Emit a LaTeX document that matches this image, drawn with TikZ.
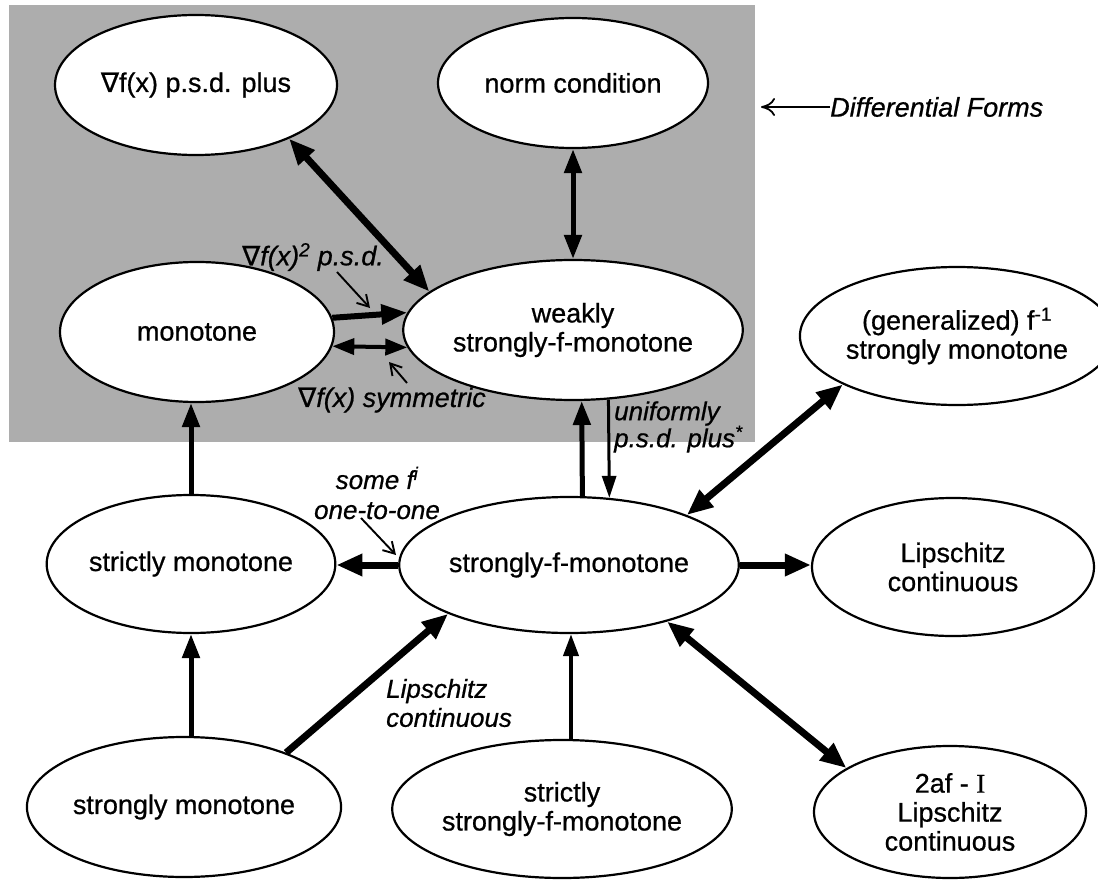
\documentclass[tikz,border=0pt]{standalone}
\usepackage{fontspec}
\setmainfont{Liberation Sans}[FakeBold=0.7]
\newfontfamily\dvs{DejaVu Sans}[FakeBold=0.5]
\newfontfamily\lserif{Liberation Serif}[FakeBold=0.7]
\usetikzlibrary{arrows.meta,shapes.geometric}
\begin{document}
\begin{tikzpicture}[x=1pt,y=-1pt,
  ell/.style={ellipse,draw,line width=2.2pt,fill=white,inner sep=0pt,align=center,
    font=\fontsize{27}{29}\selectfont},
  lab/.style={inner sep=0pt,font=\fontsize{27}{29}\selectfont\itshape},
  s7/.style={line width=7pt,-{Triangle[length=26pt,width=21pt]}},
  d7/.style={line width=7pt,{Triangle[length=26pt,width=21pt]}-{Triangle[length=26pt,width=21pt]}},
  s5/.style={line width=5pt,-{Triangle[length=24pt,width=17pt]}},
  d5/.style={line width=5pt,{Triangle[length=24pt,width=17pt]}-{Triangle[length=24pt,width=17pt]}},
  s4/.style={line width=4pt,-{Triangle[length=22pt,width=15pt]}},
  d4/.style={line width=4pt,{Triangle[length=22pt,width=16pt]}-{Triangle[length=22pt,width=16pt]}},
  s3/.style={line width=3pt,-{Triangle[length=22pt,width=14pt]}},
  thin/.style={line width=1.9pt,-{Straight Barb[length=11pt,width=13pt,line width=1.9pt]}},
]
\useasboundingbox (0,0) rectangle (1098,880);
\fill[black!32] (9,5) rectangle (755,442);

% nodes
\node[ell,minimum width=282pt,minimum height=140pt] (psd) at (196,85) {{\dvs ∇}f(x) p.s.d. plus};
\node[ell,minimum width=270pt,minimum height=130pt] (norm) at (573,83) {norm condition};
\node[ell,minimum width=274pt,minimum height=140pt] (mono) at (197,332) {monotone};
\node[ell,minimum width=266pt,minimum height=140pt] (weak) at (573,330) {weakly\\strongly-f-monotone};
\node[ell,minimum width=278pt,minimum height=138pt] (gen) at (957,336) {(generalized) f\textsuperscript{-1}\\strongly monotone};
\node[ell,minimum width=272pt,minimum height=138pt] (smono) at (191,564) {strictly monotone};
\node[ell,minimum width=266pt,minimum height=136pt] (sfm) at (569,565) {strongly-f-monotone};
\node[ell,minimum width=282pt,minimum height=138pt] (lip) at (953,567) {Lipschitz\\continuous};
\node[ell,minimum width=270pt,minimum height=140pt] (strm) at (184,807) {strongly monotone};
\node[ell,minimum width=266pt,minimum height=138pt] (ssfm) at (562,809) {strictly\\strongly-f-monotone};
\node[ell,minimum width=272pt,minimum height=132pt] (twoaf) at (950,812) {2af - {\lserif I}\\Lipschitz\\continuous};

% labels
\node[lab] (lsq) at (313,257) {{\dvs\itshape ∇}f(x)\textsuperscript{2} p.s.d.};
\node[lab] (lsym) at (392,400) {{\dvs\itshape ∇}f(x) symmetric};
\node[lab,anchor=west,align=left,font=\fontsize{26}{27}\selectfont\itshape] (lunif) at (614,427) {uniformly\\p.s.d. plus\textsuperscript{*}};
\node[lab,align=center,font=\fontsize{26}{30}\selectfont\itshape] (lsome) at (377,493) {some f\textsuperscript{i}\\one-to-one};
\node[lab,anchor=west,align=left,font=\fontsize{26}{29}\selectfont\itshape] (llip) at (386,703) {Lipschitz\\continuous};
\node[lab,anchor=west] (ldf) at (830,107) {Differential Forms};

% main connectors
\draw[d7] (psd.-30) -- (weak.165);
\draw[d5] (norm.south) -- (weak.north);
\draw[line width=6pt,-{Triangle[length=26pt,width=19pt]}] (mono.6) -- (weak.174);
\draw[d4] (mono.-6) -- (weak.186);
\draw[s5] (smono.north) -- (smono.north |- mono.south);
\draw[s5] (strm.north -| smono.south) -- (smono.south);
\draw[s7] (strm.28) -- (sfm.202);
\draw[s4] ([xshift=9pt]ssfm.north) -- ([xshift=9pt]ssfm.north |- sfm.south);
\draw[s5] (sfm.79) -- (weak.-83);
\draw[s3] (weak.-63) -- (sfm.59);
\draw[s7] (sfm.west) -- (sfm.west -| smono.east);
\draw[s7] (sfm.east) -- (sfm.east -| lip.west);
\draw[d7] (sfm.23) -- (gen.203);
\draw[d7] (sfm.-30) -- (twoaf.157);

% thin label arrows
\coordinate (c1s) at (337,272); \coordinate (c1e) at (370,308);
\coordinate (c2s) at (407,383); \coordinate (c2e) at (389,362);
\coordinate (c3s) at (361,518); \coordinate (c3e) at (396,555);
\coordinate (c4e) at (761,107);
\draw[thin] (c1s) -- (c1e);
\draw[thin] (c2s) -- (c2e);
\draw[thin] (c3s) -- (c3e);
\draw[line width=1.8pt,-{To[length=14pt,width=18pt,line width=1.8pt]}] (ldf.west) -- (c4e);
\end{tikzpicture}
\end{document}
